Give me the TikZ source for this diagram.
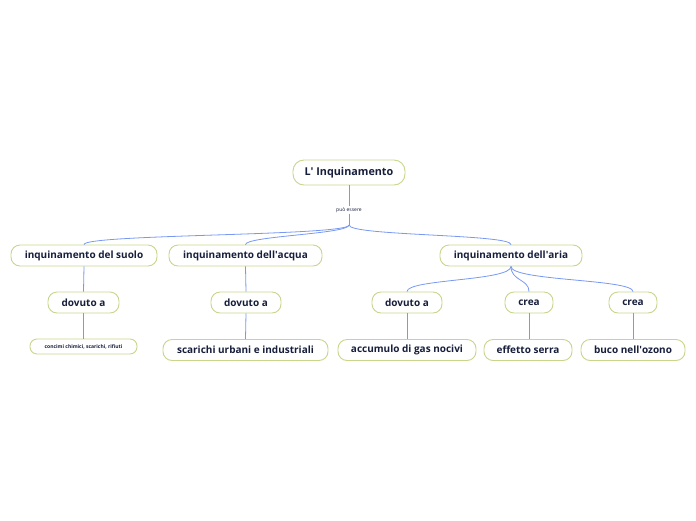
\documentclass[tikz,border=0pt]{standalone}
\usepackage{fontspec}
\setmainfont{Open Sans}
\definecolor{boxline}{RGB}{200,214,140}
\definecolor{txt}{RGB}{22,30,60}
\definecolor{link}{RGB}{120,152,242}
\newcommand{\ap}{\textquotesingle}
\begin{document}
\begin{tikzpicture}[x=1pt,y=-1pt,
  box/.style={draw=boxline,line width=0.9pt,fill=white,rounded corners=9pt,
    text=txt,font=\fontsize{10}{12}\selectfont\bfseries,minimum height=21pt,inner xsep=10pt,inner ysep=0pt},
  smallbox/.style={box,font=\fontsize{5}{6}\selectfont\bfseries,minimum height=15pt,rounded corners=7pt},
  lbl/.style={text=txt,font=\fontsize{5}{6}\selectfont,inner sep=1pt},
  conn/.style={draw=link,line width=0.8pt}]
\useasboundingbox (0,0) rectangle (696,520);
\node[box,minimum width=112pt,minimum height=25pt,rounded corners=11pt,font=\fontsize{10.8}{12}\selectfont\bfseries] (root) at (349,172.5) {L\ap{} Inquinamento};
\node[lbl] (pe) at (349,210) {può essere};
\coordinate (b1) at (349,225);
\node[box,minimum width=146pt] (suolo) at (84,255.5) {inquinamento del suolo};
\node[box,minimum width=153pt] (acqua) at (245.5,255.5) {inquinamento dell\ap{}acqua};
\node[box,minimum width=142pt] (aria) at (511,255.5) {inquinamento dell\ap{}aria};
\node[box,minimum width=71pt] (d1) at (83.5,302.5) {dovuto a};
\node[box,minimum width=70pt] (d2) at (246,302.5) {dovuto a};
\node[box,minimum width=70pt] (d3) at (407,302.5) {dovuto a};
\node[box,minimum width=48pt] (c1) at (529,302.5) {crea};
\node[box,minimum width=48pt] (c2) at (633,302.5) {crea};
\node[smallbox,minimum width=107pt] (t1) at (83.5,346.5) {concimi chimici, scarichi, rifiuti};
\node[box,minimum width=165pt] (t2) at (245.5,350) {scarichi urbani e industriali};
\node[box,minimum width=138pt] (t3) at (407,350) {accumulo di gas nocivi};
\node[box,minimum width=88pt] (t4) at (528,350) {effetto serra};
\node[box,minimum width=104pt] (t5) at (633,350) {buco nell\ap{}ozono};
\draw[conn] (root.south) -- (pe.north);
\draw[conn] (pe.south) -- (b1);
\draw[conn] (b1) .. controls (349,236) and (84,234) .. (suolo.north);
\draw[conn] (b1) .. controls (349,234) and (246,236) .. (acqua.north);
\draw[conn] (b1) .. controls (349,236) and (511,234) .. (aria.north);
\draw[conn] (aria.south) .. controls (511,281) and (407,279) .. (d3.north);
\draw[conn] (aria.south) .. controls (511,281) and (529,279) .. (c1.north);
\draw[conn] (aria.south) .. controls (511,281) and (633,279) .. (c2.north);
\draw[conn] (suolo.south) -- (d1.north);
\draw[conn] (acqua.south) -- (d2.north);
\draw[conn] (d1.south) -- (t1.north);
\draw[conn] (d2.south) -- (t2.north);
\draw[conn] (d3.south) -- (t3.north);
\draw[conn] (c1.south) -- (c1.south |- t4.north);
\draw[conn] (c2.south) -- (t5.north);
\end{tikzpicture}
\end{document}
